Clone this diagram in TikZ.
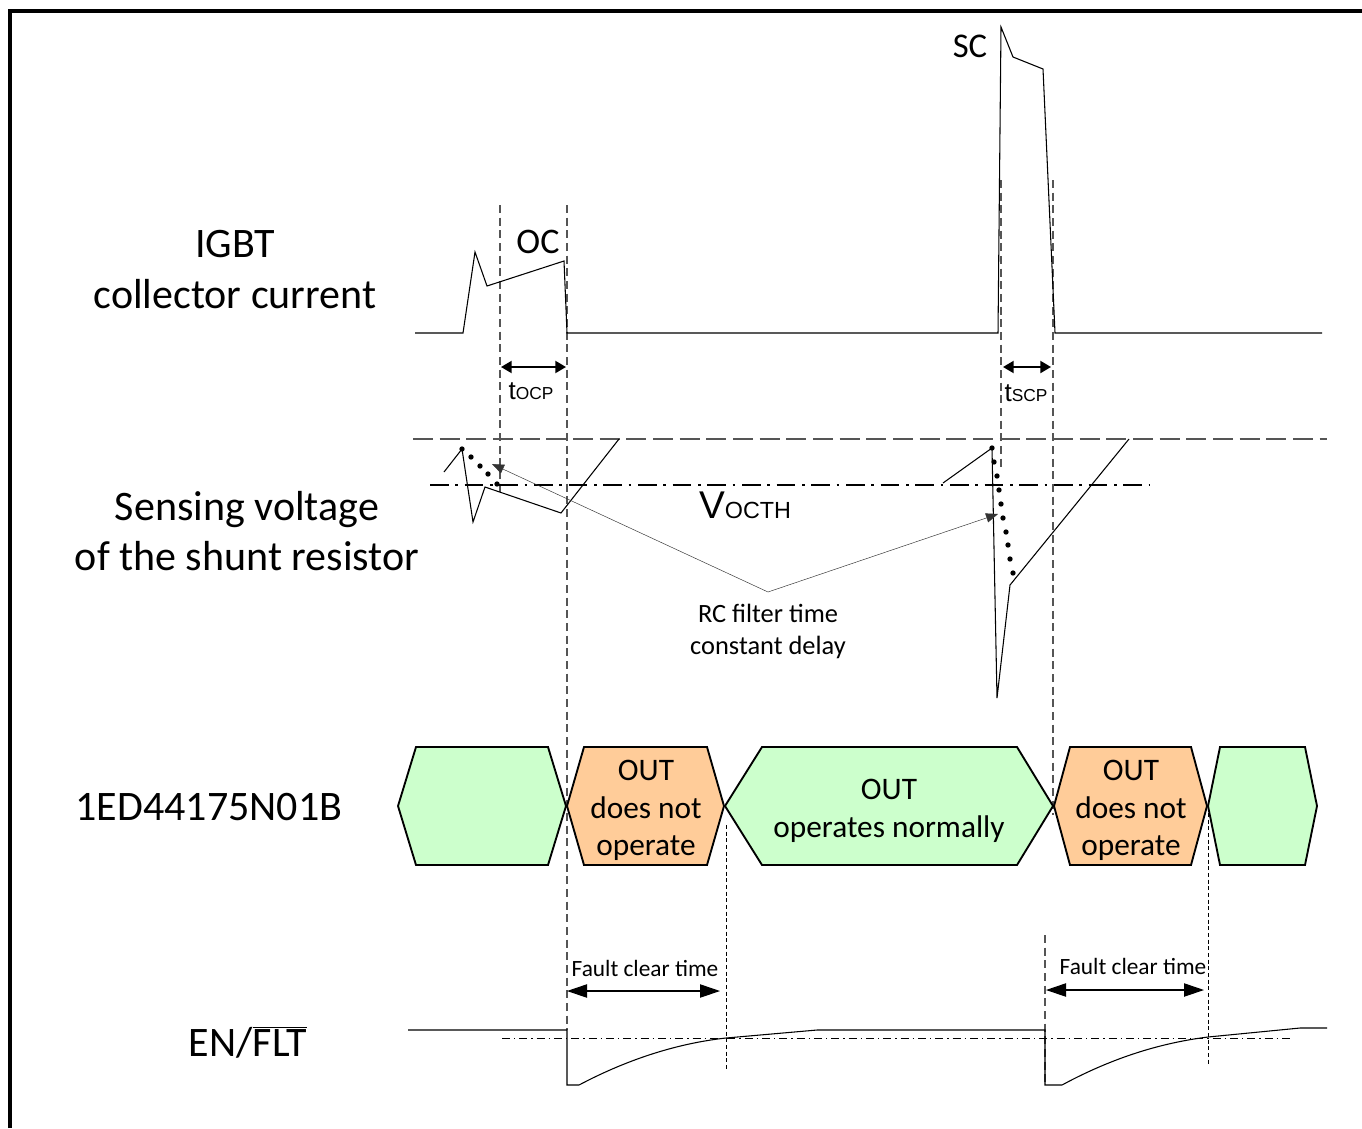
\documentclass[tikz,border=0pt]{standalone}
\usepackage{fontspec}
\setmainfont{Carlito}
\newfontfamily\arialf{Liberation Sans}
\usetikzlibrary{arrows.meta}
\definecolor{hexgreen}{HTML}{CCFFCC}
\definecolor{hexorange}{HTML}{FFCC99}
\definecolor{dashgray}{HTML}{555555}
\begin{document}
\begin{tikzpicture}[x=0.75pt,y=-0.75pt,
  wave/.style={line width=0.8pt,line join=miter},
  gdash/.style={draw=dashgray,line width=0.8pt,dash pattern=on 6pt off 3.5pt},
  tdash/.style={draw=black,line width=0.5pt,dash pattern=on 3pt off 2pt},
  hexg/.style={draw=black,line width=1.4pt,fill=hexgreen,line join=miter},
  hexo/.style={draw=black,line width=1.4pt,fill=hexorange,line join=miter},
  biglab/.style={inner sep=0pt,anchor=base,font=\fontsize{31.5}{38}\selectfont},
  hexlab/.style={inner sep=0pt,anchor=base,font=\fontsize{23.5}{28}\selectfont},
  rclab/.style={inner sep=0pt,anchor=base,font=\fontsize{19.8}{24}\selectfont},
  fclab/.style={inner sep=0pt,anchor=base,font=\fontsize{17.5}{21}\selectfont},
  tarrow/.style={line width=1.5pt,{Triangle[length=8pt,width=9pt]}-{Triangle[length=8pt,width=9pt]}},
  farrow/.style={line width=0.8pt,{Triangle[length=15pt,width=10pt]}-{Triangle[length=15pt,width=10pt]}},
  rcarrow/.style={line width=0.35pt,draw=black!80,-{Triangle[length=9pt,width=7pt]}}
]
\useasboundingbox (0,0) rectangle (1362,1128);
\fill[white] (0,0) rectangle (1362,1128);
% frame
\draw[line width=2.3pt] (10,1128) -- (10,11) -- (1362,11);

% dashed verticals
\draw[gdash] (500,205) -- (500,493);
\draw[gdash] (567,205) -- (567,1030);
\draw[gdash] (1001,180) -- (1001,470);
\draw[gdash] (1053,180) -- (1053,815);
\draw[gdash] (1045,935) -- (1045,1085);
\draw[tdash] (726,825) -- (726,1070);
\draw[tdash] (1208,813) -- (1208,1065);

% horizontal reference lines
\draw[draw=dashgray,line width=0.8pt,dash pattern=on 15pt off 5pt] (413,439) -- (1327,439);
\draw[line width=1.2pt,dash pattern=on 14pt off 5pt on 2pt off 5pt] (430,485) -- (1150,485);
\draw[line width=0.5pt,dash pattern=on 6pt off 3pt on 1pt off 3pt] (502,1038) -- (1290,1038);

% IGBT collector current
\draw[wave] (415,333) -- (463,333) -- (475,252) -- (487,286) -- (564,261) -- (567,333) -- (998,333) -- (1001,27) -- (1013,57) -- (1043,69) -- (1055,333) -- (1322,333);

% sensing voltage
\draw[wave] (444,472) -- (462,449) -- (473,522) -- (485,487) -- (561,513) -- (619,439);
\draw[wave] (943,483) -- (992,448) -- (997,698) -- (1010,585) -- (1129,439);
\foreach \p in {(462,449),(471,457),(480,466),(488,474),(497,484)}
  \fill \p circle (2pt);
\foreach \p in {(992,448),(994,462),(997,476),(999,490),(1001,504),(1003,518),(1006,532),(1008,545),(1010,559),(1013,573)}
  \fill \p circle (2pt);

% RC filter arrows
\coordinate (apex) at (768,592);
\coordinate (rcl) at (492,464);
\coordinate (rcr) at (998,514);
\draw[rcarrow] (apex) -- (rcl);
\draw[rcarrow] (apex) -- (rcr);

% EN/FLT waveform
\draw[wave] (408,1030) -- (567,1030) -- (567,1085) -- (579,1085) .. controls (630,1058) and (680,1043) .. (726,1038) -- (817,1030) -- (1045,1030) -- (1045,1085) -- (1062,1085) .. controls (1112,1058) and (1160,1043) .. (1208,1037) -- (1300,1028) -- (1327,1028);

% time arrows
\coordinate (ocpa) at (501,367);
\coordinate (ocpb) at (566,367);
\coordinate (scpa) at (1003,367);
\coordinate (scpb) at (1051,367);
\draw[tarrow] (ocpa) -- (ocpb);
\draw[tarrow] (scpa) -- (scpb);
\coordinate (fca) at (567,991);
\coordinate (fcb) at (720,991);
\coordinate (fcc) at (1046,990);
\coordinate (fcd) at (1204,990);
\draw[farrow] (fca) -- (fcb);
\draw[farrow] (fcc) -- (fcd);

% hexagons
\draw[hexg] (398,806) -- (416,747) -- (548,747) -- (566,806) -- (548,865) -- (416,865) -- cycle;
\draw[hexo] (567,806) -- (584,747) -- (707,747) -- (724,806) -- (707,865) -- (584,865) -- cycle;
\draw[hexg] (725,806) -- (762,747) -- (1017,747) -- (1053,806) -- (1017,865) -- (762,865) -- cycle;
\draw[hexo] (1054,806) -- (1070,747) -- (1191,747) -- (1207,806) -- (1191,865) -- (1070,865) -- cycle;
\draw[hexg] (1208,806) -- (1220,747) -- (1305,747) -- (1317,806) -- (1305,865) -- (1220,865) -- cycle;

% hexagon texts
\node[hexlab] (o1a) at (646,780) {OUT};
\node[hexlab] (o1b) at (646,818) {does not};
\node[hexlab] (o1c) at (646,855) {operate};
\node[hexlab] (g1a) at (889,799) {OUT};
\node[hexlab] (g1b) at (889,837) {operates normally};
\node[hexlab] (o2a) at (1131,780) {OUT};
\node[hexlab] (o2b) at (1131,818) {does not};
\node[hexlab] (o2c) at (1131,855) {operate};

% left labels
\node[biglab] (igbt) at (235,257) {IGBT};
\node[biglab] (cc) at (235,308) {collector current};
\node[biglab] (sv) at (247,520) {Sensing voltage};
\node[biglab] (sr) at (247,570) {of the shunt resistor};
\node[biglab] (dev) at (209,820) {1ED44175N01B};
\node[biglab] (en) at (248,1056) {EN/$\overline{\mbox{FLT}}$};

% waveform labels
\node[inner sep=0pt,anchor=base,font=\fontsize{27}{32}\selectfont] (oc) at (538,253) {OC};
\node[inner sep=0pt,anchor=base,font=\fontsize{26}{32}\selectfont] (sc) at (970,57) {SC};
\node[inner sep=0pt,anchor=base,font=\arialf\fontsize{19.5}{22}\selectfont] (tocp) at (531,399) {t{\fontsize{13}{14}\selectfont OCP}};
\node[inner sep=0pt,anchor=base,font=\arialf\fontsize{19.5}{22}\selectfont] (tscp) at (1026,401) {t{\fontsize{13}{14}\selectfont SCP}};
\node[inner sep=0pt,anchor=base,font=\arialf\fontsize{29}{32}\selectfont] (voc) at (745,518) {V{\fontsize{17.5}{20}\selectfont OCTH}};
\node[rclab] (rc1) at (768,622) {RC filter time};
\node[rclab] (rc2) at (768,654) {constant delay};
\node[fclab] (fc1) at (645,976) {Fault clear time};
\node[fclab] (fc2) at (1133,974) {Fault clear time};
\end{tikzpicture}
\end{document}
